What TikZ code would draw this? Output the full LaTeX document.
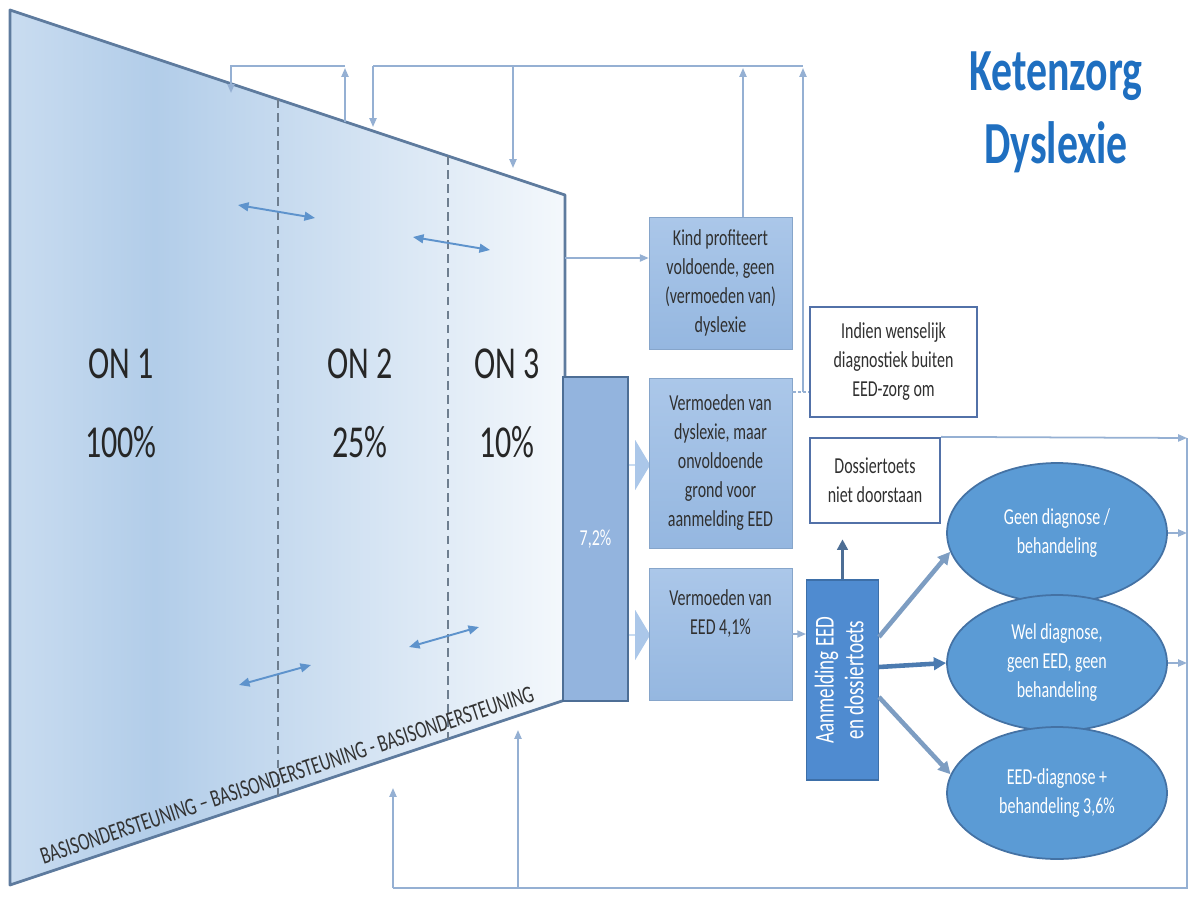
\documentclass[tikz,border=0pt]{standalone}
\usepackage{fontspec}
\setmainfont{Carlito}[FakeStretch=0.7]
\usetikzlibrary{arrows.meta,shapes.geometric,shapes.arrows,calc}

\definecolor{trapL}{HTML}{C9DCF0}
\definecolor{trapM}{HTML}{B2CDE9}
\definecolor{trapR}{HTML}{F4F8FC}
\definecolor{trapedge}{HTML}{5E7B9E}
\definecolor{dashgray}{HTML}{6E7E8F}
\definecolor{dblblue}{HTML}{5E93CC}
\definecolor{fbline}{HTML}{95B0D3}
\definecolor{boxtop}{HTML}{ABC7E9}
\definecolor{boxbot}{HTML}{95B7E0}
\definecolor{boxtext}{HTML}{303030}
\definecolor{pctfill}{HTML}{93B4DE}
\definecolor{pctedge}{HTML}{4D6E95}
\definecolor{wboxedge}{HTML}{5271A8}
\definecolor{aanmfill}{HTML}{4F8BD0}
\definecolor{aanmedge}{HTML}{3D6FA8}
\definecolor{ellfill}{HTML}{5B9BD5}
\definecolor{elledge}{HTML}{4472A4}
\definecolor{eline}{HTML}{7D9DC2}
\definecolor{elinedark}{HTML}{4C7BB0}
\definecolor{titleblue}{HTML}{1F6FC0}

\pgfdeclarehorizontalshading{trapshade}{100bp}{color(0bp)=(trapL); color(25bp)=(trapL); color(38bp)=(trapM); color(75bp)=(trapR); color(100bp)=(trapR)}

\begin{document}
\begin{tikzpicture}[
    x=0.02cm, y=-0.02cm,
    fb/.style={draw=fbline, line width=1pt},
    fbarr/.style={fb, -{Triangle[length=5pt,width=4pt]}},
    dbl/.style={draw=dblblue, line width=1.1pt, {Triangle[length=6pt,width=5pt]}-{Triangle[length=6pt,width=5pt]}},
    sepline/.style={draw=dashgray, line width=0.6pt, dash pattern=on 5pt off 3pt},
    onlabel/.style={font=\fontsize{26}{45}\selectfont, text=black!85, align=center},
    stepbox/.style={rectangle, top color=boxtop, bottom color=boxbot, draw=boxbot!90!black, line width=0.3pt,
        text=boxtext, align=center, font=\fontsize{13}{16.5}\selectfont, minimum width=2.86cm},
    whitebox/.style={rectangle, fill=white, draw=wboxedge, line width=1.3pt, text=boxtext, align=center,
        font=\fontsize{13}{16.5}\selectfont},
    result/.style={ellipse, fill=ellfill, draw=elledge, line width=1pt, text=white, align=center,
        font=\fontsize{13}{16.5}\selectfont, minimum width=4.4cm},
    blockarr/.style={single arrow, fill=boxtop, draw=none, minimum width=1cm, minimum height=0.48cm,
        single arrow head extend=0.23cm, single arrow tip angle=118, inner sep=0pt},
    outcome/.style={draw=eline, line width=2.6pt, -{Triangle[length=7pt,width=7pt]}},
]
\useasboundingbox (0,0) rectangle (1191,903);

% trechter met de drie ondersteuningsniveaus
\coordinate (tl) at (10,10);
\coordinate (tr) at (565,195);
\coordinate (br) at (565,700);
\coordinate (bl) at (10,885);
\shade[shading=trapshade] (tl) -- (tr) -- (br) -- (bl) -- cycle;
\draw[trapedge, line width=1.6pt, line join=round] (tl) -- (tr) -- (br) -- (bl) -- cycle;

\draw[sepline] (278,99) -- (278,796);
\draw[sepline] (448,156) -- (448,739);

\foreach \ax/\ay/\bx/\by in {238/205/315/218, 413/237/490/250, 239/685/311/665, 409/647/479/627}{
    \draw[dbl] (\ax,\ay) -- (\bx,\by);
}

\node[onlabel] (on1) at (121,403) {ON 1\\100\%};
\node[onlabel] (on2) at (360,403) {ON 2\\25\%};
\node[onlabel] (on3) at (507,403) {ON 3\\10\%};

\node[rotate=18.4, font=\fontsize{14}{16}\selectfont, text=black!80] (basis) at (287,775)
    {BASISONDERSTEUNING -- BASISONDERSTEUNING - BASISONDERSTEUNING};

% uitstroom uit ON 3
\node[blockarr] (ba1) at (638,465) {};
\node[blockarr] (ba2) at (638,635) {};
\node[rectangle, fill=pctfill, draw=pctedge, line width=1pt, minimum width=1.3cm, minimum height=6.48cm,
    text=white, font=\fontsize{13}{16}\selectfont] (pct) at (595.5,539) {7,2\%};

\node[stepbox, minimum height=2.64cm] (kind) at (720.5,283)
    {Kind profiteert\\voldoende, geen\\(vermoeden van)\\dyslexie};
\node[stepbox, minimum height=3.4cm] (verm1) at (720.5,463)
    {Vermoeden van\\dyslexie, maar\\onvoldoende\\grond voor\\aanmelding EED};
\node[stepbox, minimum height=2.64cm] (verm2) at (720.5,634)
    {Vermoeden van\\EED 4,1\%\\[8pt]};

\node[whitebox, minimum width=3.34cm, minimum height=2.2cm] (indien) at (893.5,362)
    {Indien wenselijk\\diagnostiek buiten\\EED-zorg om};
\node[whitebox, minimum width=2.6cm, minimum height=1.7cm] (doss) at (875,480.5)
    {Dossiertoets\\niet doorstaan};

\node[rectangle, fill=aanmfill, draw=aanmedge, line width=0.8pt, minimum width=1.3cm, minimum height=4cm,
    text=white, font=\fontsize{15.5}{17}\selectfont] (aanm) at (842.5,680)
    {\rotatebox{90}{\begin{tabular}{@{}c@{}}Aanmelding EED\\en dossiertoets\end{tabular}}};

\node[result, minimum height=2.8cm] (geen) at (1057,533) {Geen diagnose /\\behandeling};
\node[result, minimum height=2.72cm] (wel) at (1057,663) {Wel diagnose,\\geen EED, geen\\behandeling};
\node[result, minimum height=2.64cm] (eed) at (1057,793) {EED-diagnose +\\behandeling 3,6\%};

\node[text=titleblue, font=\fontsize{34}{41.5}\selectfont\bfseries, align=center] (title) at (1056,112)
    {Ketenzorg\\Dyslexie};

% terugkoppeling bovenaan
\coordinate (up1) at (345,122);
\coordinate (top1) at (345,66);
\coordinate (top2) at (373,66);
\coordinate (fbK) at (743,66);
\coordinate (fbV) at (803,66);
\draw[fbarr] (up1) -- ($(top1)+(0,2)$);
\draw[fbarr] (top1) -- (231,66) -- (231,93);
\draw[fb] (top2) -- (fbV);
\draw[fbarr] (top2) -- (373,127);
\draw[fbarr] (513,66) -- (513,168);
\draw[fbarr] (kind.north -| fbK) -- ($(fbK)+(0,2)$);
\coordinate (vj) at ($(verm1.east)+(0,-71)$);
\draw[draw=fbline, line width=0.8pt, dash pattern=on 2pt off 1pt] (vj) -- (vj -| indien.west);
\draw[fbarr] (vj -| fbV) -- ($(fbV)+(0,2)$);

\coordinate (tk) at (565,258);
\draw[fbarr] (tk) -- (tk -| kind.west);

% aanmelding en uitkomsten
\draw[fbarr] (verm2.east) -- (aanm.west |- verm2.east);
\draw[draw=pctedge, line width=2pt, -{Triangle[length=6pt,width=6pt]}] (aanm.north) -- ($(aanm.north)+(0,-40)$);
\draw[outcome] ($(aanm.east)+(0,-43)$) -- (geen.190);
\draw[outcome, draw=elinedark] ($(aanm.east)+(0,-13)$) -- (wel.west);
\draw[outcome] ($(aanm.east)+(0,17)$) -- (eed.170);

% terugkoppeling rechts en onderaan
\coordinate (rv) at (1187,438);
\coordinate (rb) at (1187,888);
\coordinate (lb) at (393,888);
\coordinate (mb) at (518,888);
\draw[fbarr] (doss.north east) -- (rv);
\draw[fbarr] (geen.east) -- (geen.east -| rv);
\draw[fbarr] (wel.east) -- (wel.east -| rv);
\draw[fb] (rv) -- (rb) -- (lb);
\draw[fbarr] (lb) -- (393,788);
\draw[fbarr] (mb) -- (518,730);

\end{tikzpicture}
\end{document}
